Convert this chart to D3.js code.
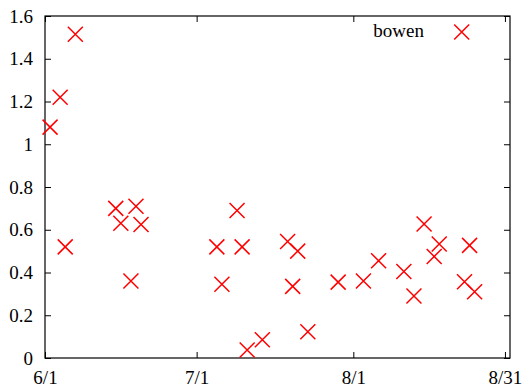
<!DOCTYPE html>
<html><head><meta charset="utf-8">
<script src="https://cdn.jsdelivr.net/npm/d3@7"></script>
<style>html,body{margin:0;padding:0;background:#fff;}svg{display:block;}</style>
</head><body>
<script>
const dates = ["6/2","6/4","6/5","6/7","6/15","6/16","6/18","6/19","6/20","7/5","7/6","7/9","7/10","7/11","7/14","7/19","7/20","7/21","7/23","7/29","8/3","8/6","8/11","8/13","8/15","8/17","8/18","8/23","8/24","8/25"];
const bowen = [1.08,1.22,0.52,1.515,0.70,0.63,0.36,0.71,0.625,0.52,0.345,0.69,0.52,0.037,0.085,0.545,0.335,0.50,0.123,0.355,0.36,0.455,0.405,0.29,0.627,0.475,0.533,0.357,0.527,0.31];
const xTickLabels = ["6/1","7/1","8/1","8/31"];
const yTicks = [0,0.2,0.4,0.6,0.8,1,1.2,1.4,1.6];
const seriesName = "bowen";

const W=522,H=390;
const m={l:45,r:12,t:16,b:32};
const parse = s => { const [mo,d]=s.split("/").map(Number); return new Date(Date.UTC(2000,mo-1,d)); };
const x = d3.scaleUtc().domain([parse("6/1"), parse("9/1")]).range([m.l, W-m.r]);
const y = d3.scaleLinear().domain([0,1.6]).range([H-m.b, m.t]);

const svg = d3.select("body").append("svg").attr("width",W).attr("height",H);
const FONT = "Liberation Serif";
const fs = 19;

const xt = xTickLabels.map(parse);
const fmt = d => (d.getUTCMonth()+1)+"/"+d.getUTCDate();

const gb = svg.append("g").attr("transform",`translate(0,${H-m.b})`)
  .call(d3.axisBottom(x).tickValues(xt).tickFormat(fmt).tickSize(-6).tickPadding(12.6));
const gt = svg.append("g").attr("transform",`translate(0,${m.t})`)
  .call(d3.axisTop(x).tickValues(xt).tickFormat("").tickSize(-6));
const gl = svg.append("g").attr("transform",`translate(${m.l},0)`)
  .call(d3.axisLeft(y).tickValues(yTicks).tickFormat(d3.format("")).tickSize(-6).tickPadding(12));
const gr = svg.append("g").attr("transform",`translate(${W-m.r},0)`)
  .call(d3.axisRight(y).tickValues(yTicks).tickFormat("").tickSize(-6));
[gb,gt,gl,gr].forEach(g=>{
  g.attr("font-family",FONT).attr("font-size",fs);
  g.select(".domain").remove();
  g.selectAll("line").attr("stroke","#000").attr("stroke-width",1);
  g.selectAll("text").attr("font-family",FONT).attr("font-size",fs).attr("fill","#000");
});

svg.append("rect").attr("x",m.l).attr("y",m.t).attr("width",W-m.r-m.l).attr("height",H-m.b-m.t)
  .attr("fill","none").attr("stroke","#000").attr("stroke-width",1.2);

const s=7.5;
const cross = (g,cx,cy)=>{
  g.append("path").attr("d",`M${cx-s},${cy-s}L${cx+s},${cy+s}M${cx-s},${cy+s}L${cx+s},${cy-s}`)
   .attr("stroke","#ff0000").attr("stroke-width",1.5).attr("fill","none");
};
const pts = svg.append("g");
dates.forEach((d,i)=>cross(pts, x(parse(d)), y(bowen[i])));

// legend
svg.append("text").attr("x",424).attr("y",37.3).attr("text-anchor","end")
  .attr("font-family",FONT).attr("font-size",fs).attr("fill","#000").text(seriesName);
cross(svg.append("g"),461.7,32);
</script>
</body></html>
